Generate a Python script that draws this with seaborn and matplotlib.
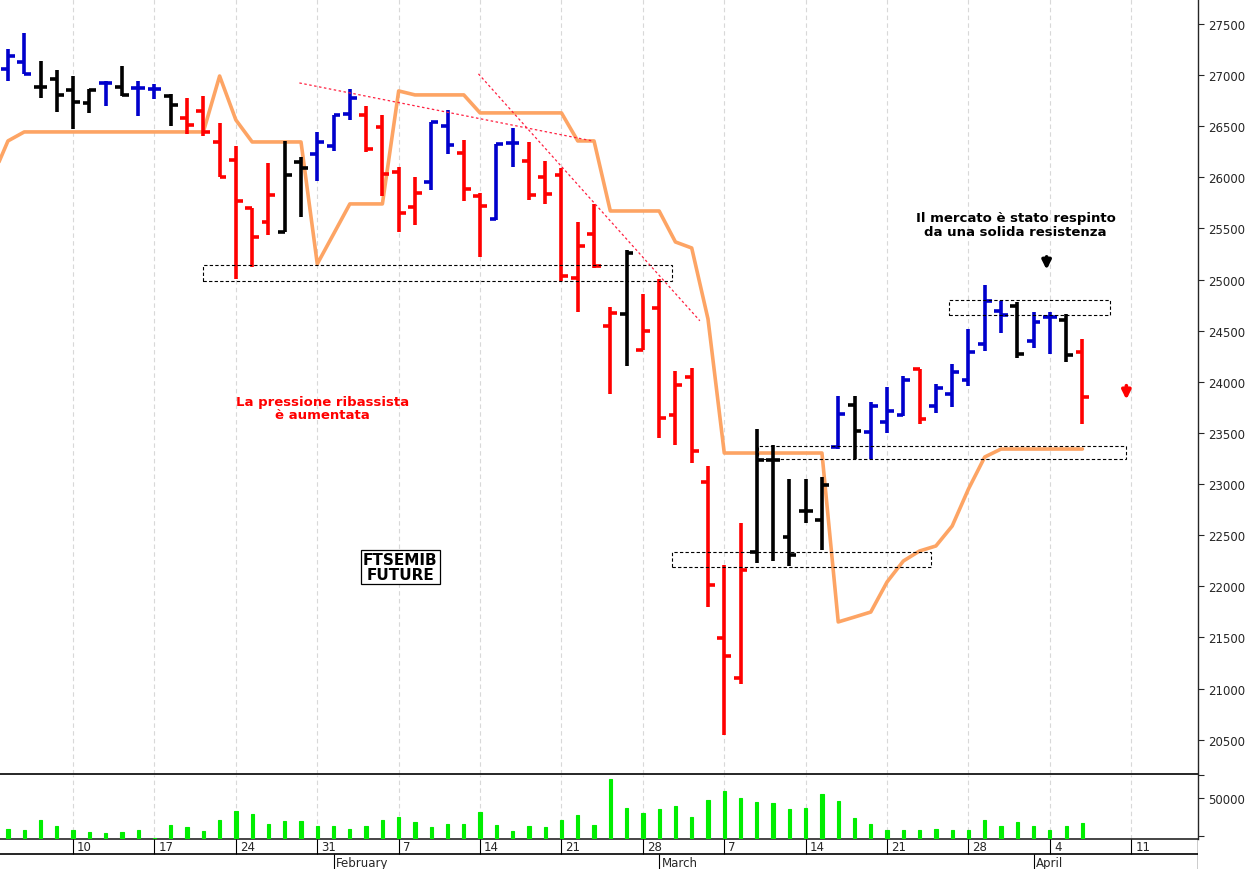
import numpy as np
import pandas as pd
import matplotlib
matplotlib.use('Agg')
import matplotlib.pyplot as plt
import seaborn as sns

# trading days Jan 4 .. Apr 6 2022, index 0..66
highs = [27255, 27412, 27138, 27050, 26991, 26864, 26942, 27089, 26942, 26913,
         26815, 26776, 26796, 26532, 26307, 25700, 26141, 26356, 26199, 26444,
         26610, 26864, 26698, 26610, 26101, 26004, 26542, 26659, 26366, 25847,
         26327, 26483, 26346, 26160, 26092, 25564, 25740, 24732, 25290, 24859,
         25006, 24106, 24136, 23177, 22209, 22620, 23539, 23383, 23050, 23050,
         23070, 23862, 23862, 23803, 23950, 24058, 24126, 23979, 24175, 24517,
         24947, 24791, 24781, 24683, 24683, 24664, 24419]
lows = [26942, 27011, 26776, 26639, 26473, 26630, 26698, 26796, 26600, 26766,
        26502, 26424, 26405, 26004, 25006, 25124, 25436, 25466, 25612, 25965,
        26258, 26561, 26248, 25818, 25466, 25534, 25877, 26229, 25769, 25221,
        25583, 26101, 25779, 25740, 24987, 24683, 25114, 23881, 24155, 24312,
        23451, 23383, 23207, 21798, 20546, 21045, 22229, 22248, 22199, 22620,
        22356, 23343, 23246, 23246, 23500, 23666, 23588, 23696, 23754, 23960,
        24302, 24478, 24234, 24331, 24273, 24195, 23588]
opens = [27060, 27128, 26884, 26962, 26854, 26727, 26923, 26884, 26874, 26864,
         26796, 26581, 26649, 26346, 26170, 25700, 25564, 25466, 26150, 26229,
         26307, 26620, 26610, 26493, 26052, 25710, 25955, 26502, 26238, 25818,
         25593, 26336, 26160, 26004, 26023, 25016, 25446, 24547, 24664, 24312,
         24722, 23676, 24048, 23021, 21495, 21104, 22337, 23236, 22483, 22737,
         22649, 23363, 23774, 23510, 23607, 23676, 24126, 23764, 23881, 24018,
         24370, 24693, 24742, 24400, 24634, 24605, 24292]
closes = [27187, 27011, 26884, 26806, 26737, 26854, 26923, 26806, 26874, 26864,
          26708, 26512, 26444, 26004, 25769, 25417, 25828, 26023, 26092, 26346,
          26610, 26776, 26277, 26033, 25652, 25847, 26542, 26317, 25886, 25720,
          26327, 26336, 25828, 25837, 25035, 25329, 25133, 24674, 25260, 24498,
          23647, 23969, 23324, 22013, 21319, 22160, 23236, 23236, 22307, 22737,
          22991, 23686, 23520, 23764, 23715, 24018, 23637, 23940, 24097, 24292,
          24791, 24654, 24273, 24586, 24634, 24263, 23852]
bar_colors = list('bbkkkkbkbbkrrrrrrkkbbbrrrrbbrrbbrrrrrrkrrrrrrrkkkkkbkbbbrbbbbbkbbkr')

# stop line, first value is Jan 3 (index -1)
stop_line = [25984, 26356, 26444, 26444, 26444, 26444, 26444, 26444, 26444, 26444,
             26444, 26444, 26444, 26444, 26991, 26561, 26346, 26346, 26346, 26346,
             25153, 25446, 25740, 25740, 25740, 26845, 26806, 26806, 26806, 26806,
             26630, 26630, 26630, 26630, 26630, 26630, 26356, 26356, 25671, 25671,
             25671, 25671, 25368, 25309, 24615, 23304, 23304, 23304, 23304, 23304,
             23304, 23304, 21652, 21700, 21749, 22043, 22248, 22346, 22395, 22590,
             22952, 23265, 23343, 23343, 23343, 23343, 23343, 23343]

volume = [12200, 11000, 23600, 16300, 10600, 8900, 7300, 8900, 11000, 1200,
          17500, 14600, 10200, 23600, 34600, 30900, 18700, 22400, 22000, 16300,
          15900, 12200, 16300, 23600, 26400, 21100, 14200, 17900, 18700, 32500,
          17500, 9800, 16300, 15000, 23600, 29700, 17500, 73200, 37800, 32100,
          36600, 40700, 27200, 47200, 58500, 50400, 45100, 44300, 37000, 37800,
          55300, 46300, 26000, 18700, 11400, 11000, 11400, 11800, 10600, 10600,
          23600, 15900, 20300, 15900, 11000, 15900, 19900]

week_idx = [4, 9, 14, 19, 24, 29, 34, 39, 44, 49, 54, 59, 64, 69]
week_labels = ['10', '17', '24', '31', '7', '14', '21', '28', '7', '14', '21', '28', '4', '11']
month_idx = [-4, 20, 40, 63]
month_labels = ['2022', 'February', 'March', 'April']

# support / resistance boxes: (start idx, end idx, top, bottom)
boxes = [(12, 40.8, 25143, 24987), (57.8, 67.7, 24800, 24650),
         (46.1, 68.7, 23373, 23246), (40.8, 56.7, 22336, 22190)]
trend_lines = [((17.9, 26923), (35.9, 26356)), ((28.9, 27012), (42.5, 24597))]

colmap = {'b': '#0000cc', 'k': 'black', 'r': '#ff0000'}

sns.set_style('white')
plt.rcParams['font.family'] = ['DejaVu Sans']

W, H = 1247, 870
fig = plt.figure(figsize=(W / 100, H / 100), dpi=100)
xr = 1198 / W
ax = fig.add_axes([0, 1 - 775 / H, xr, 775 / H])
axv = fig.add_axes([0, 1 - 840 / H, xr, 64 / H])
axd = fig.add_axes([0, 0, xr, 30 / H])

xlim = (-0.49, 73.1)
idx = np.arange(len(highs))

for a in (ax, axv):
    for w in week_idx:
        a.axvline(w, color='#d8d8d8', lw=0.8, ls=(0, (4, 3)), zorder=0)

# ohlc bars
for i in idx:
    c = colmap[bar_colors[i]]
    ax.vlines(i, lows[i], highs[i], color=c, lw=2.6, zorder=3)
    ax.hlines(opens[i], i - 0.42, i, color=c, lw=2.6, zorder=3)
    ax.hlines(closes[i], i, i + 0.42, color=c, lw=2.6, zorder=3)

stop_df = pd.DataFrame({'x': np.arange(-1, len(stop_line) - 1), 'y': stop_line})
sns.lineplot(data=stop_df, x='x', y='y', ax=ax, color='#fda464', lw=2.6, zorder=2)

for x0, x1, top, bot in boxes:
    ax.add_patch(plt.Rectangle((x0, bot), x1 - x0, top - bot, fill=False,
                               ec='black', lw=0.8, ls=(0, (3, 2)), zorder=4))
for (xa, ya), (xb, yb) in trend_lines:
    ax.plot([xa, xb], [ya, yb], color='#ff2040', lw=0.9, ls=(0, (2, 2)), zorder=4)

ax.text(19.3, 23740, 'La pressione ribassista\nè aumentata', color='#ff0000',
        fontsize=9.5, fontweight='bold', ha='center', va='center', linespacing=1.0)
ax.text(24.1, 22190, 'FTSEMIB\nFUTURE', color='black', fontsize=11, fontweight='bold',
        ha='center', va='center', linespacing=1.0,
        bbox=dict(boxstyle='square,pad=0.15', fc='white', ec='black', lw=0.9))
ax.text(61.9, 25540, 'Il mercato è stato respinto\nda una solida resistenza', color='black',
        fontsize=9.5, fontweight='bold', ha='center', va='center', linespacing=1.05)
ax.annotate('', xy=(63.8, 25070), xytext=(63.8, 25250),
            arrowprops=dict(arrowstyle='-|>', color='black', lw=2.6, mutation_scale=13))
ax.annotate('', xy=(68.7, 23800), xytext=(68.7, 23990),
            arrowprops=dict(arrowstyle='-|>', color='#ff0000', lw=2.6, mutation_scale=13))

ax.set_xlim(*xlim)
ax.set_ylim(20165, 27744)
ax.yaxis.tick_right()
ax.set_yticks(np.arange(20500, 27501, 500))
ax.tick_params(axis='y', labelsize=8.5, length=4, direction='out', right=True, pad=3)
ax.set_xticks([])
ax.set_xlabel('')
ax.set_ylabel('')
for s in ('left', 'top'):
    ax.spines[s].set_visible(False)
ax.spines['right'].set_linewidth(1.0)
ax.spines['bottom'].set_linewidth(1.4)

# volume
axv.bar(idx, volume, width=0.2, color='#00ee00', ec='#00ee00', lw=0.8, zorder=3)
axv.set_xlim(*xlim)
axv.set_ylim(0, 78000)
axv.yaxis.tick_right()
axv.set_yticks([4000, 50000, 78000])
axv.set_yticklabels(['', '50000', ''])
axv.tick_params(axis='y', labelsize=8.5, length=4, right=True, pad=3)
axv.set_xticks([])
for s in ('left', 'top'):
    axv.spines[s].set_visible(False)
axv.spines['bottom'].set_linewidth(1.2)
axv.spines['right'].set_linewidth(1.0)

# date strip
axd.set_xlim(*xlim)
axd.set_ylim(0, 30)
axd.axis('off')
axd.axhline(15, color='black', lw=1.2)
axd.plot([xlim[1], xlim[1]], [0, 30], color='black', lw=1.0)
for w, lab in zip(week_idx, week_labels):
    axd.vlines(w, 15, 30, color='black', lw=0.8)
    axd.text(w + 0.25, 22, lab, fontsize=8.5, ha='left', va='center')
for m, lab in zip(month_idx, month_labels):
    axd.vlines(m, 0, 15, color='black', lw=0.8)
    axd.text(m + 0.15, 6.5, lab, fontsize=8.5, ha='left', va='center', clip_on=False)

fig.savefig('out.png', dpi=100)
